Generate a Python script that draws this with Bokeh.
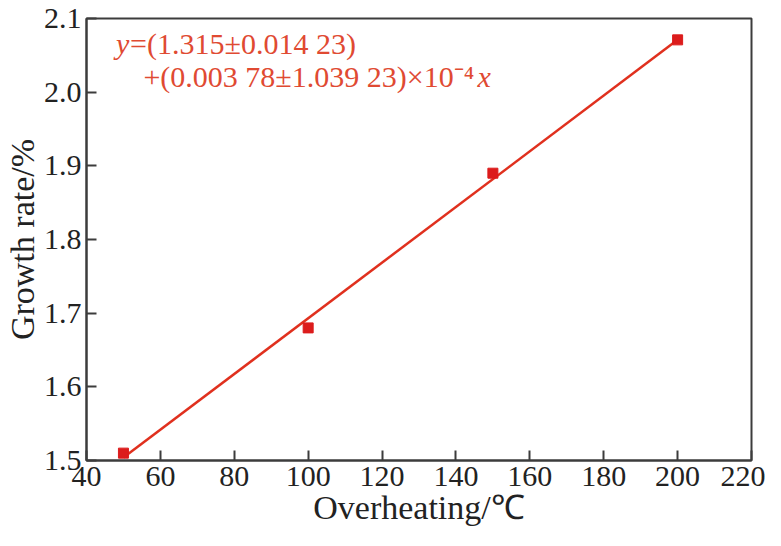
from bokeh.plotting import figure
from bokeh.models import Label, Range1d, PrintfTickFormatter
from bokeh.embed import file_html
from bokeh.resources import INLINE

# Data
overheating = [50, 100, 150, 200]
growth_rate = [1.51, 1.68, 1.89, 2.071]
intercept = 1.315
slope = 0.00378
x_ticks = [40, 60, 80, 100, 120, 140, 160, 180, 200, 220]
y_ticks = [1.5, 1.6, 1.7, 1.8, 1.9, 2.0, 2.1]

eq_line1 = "=(1.315\u00b10.014 23)"
eq_line2 = "+(0.003 78\u00b11.039 23)\u00d710\u207b\u2074"

FONT = "Liberation Serif"
AX = "#3c3c3c"
RED_TXT = "#e04a32"
RED_LINE = "#e0301e"
RED_MK = "#dc1c1c"

p = figure(width=765, height=530, output_backend="svg", toolbar_location=None,
           x_range=Range1d(40, 220), y_range=Range1d(1.5, 2.1),
           min_border_left=76, min_border_right=14, min_border_top=18, min_border_bottom=70)
p.background_fill_color = "white"
p.border_fill_color = "white"
p.grid.visible = False
p.outline_line_color = AX
p.outline_line_width = 2

for ax in (p.xaxis[0], p.yaxis[0]):
    ax.axis_line_color = AX
    ax.axis_line_width = 2
    ax.major_tick_line_color = AX
    ax.major_tick_line_width = 2
    ax.major_tick_in = 10
    ax.major_tick_out = 0
    ax.minor_tick_line_color = None
    ax.major_label_text_font = FONT
    ax.major_label_text_font_size = "30px"
    ax.major_label_text_color = "#222222"
    ax.axis_label_text_font = FONT
    ax.axis_label_text_font_size = "34px"
    ax.axis_label_text_font_style = "normal"
    ax.axis_label_text_color = "#222222"

p.xaxis.ticker = x_ticks
p.yaxis.ticker = y_ticks
p.yaxis.formatter = PrintfTickFormatter(format="%.1f")
p.xaxis.major_label_standoff = 6
p.yaxis.major_label_standoff = 5
p.xaxis.axis_label_standoff = 0
p.yaxis.axis_label_standoff = 0
p.xaxis.axis_label = "Overheating/\u2103"
p.yaxis.axis_label = "Growth rate/%"

fit_x = [overheating[0], overheating[-1]]
fit_y = [intercept + slope * v for v in fit_x]
p.line(fit_x, fit_y, line_color=RED_LINE, line_width=2.5)
p.scatter(overheating, growth_rate, marker="square", size=10,
          fill_color=RED_MK, line_color=RED_MK)

p.add_layout(Label(x=48.0, y=2.066, text="y", text_font=FONT, text_font_size="30px",
                   text_font_style="italic", text_color=RED_TXT, text_baseline="alphabetic"))
p.add_layout(Label(x=48.0, y=2.066, x_offset=14, text=eq_line1, text_font=FONT,
                   text_font_size="30px", text_color=RED_TXT, text_baseline="alphabetic"))
p.add_layout(Label(x=55.4, y=2.021, text=eq_line2, text_font=FONT, text_font_size="30px",
                   text_color=RED_TXT, text_baseline="alphabetic"))
p.add_layout(Label(x=55.4, y=2.021, x_offset=334, text="x", text_font=FONT,
                   text_font_size="30px", text_font_style="italic", text_color=RED_TXT,
                   text_baseline="alphabetic"))

open("out.html", "w").write(file_html(p, INLINE))
